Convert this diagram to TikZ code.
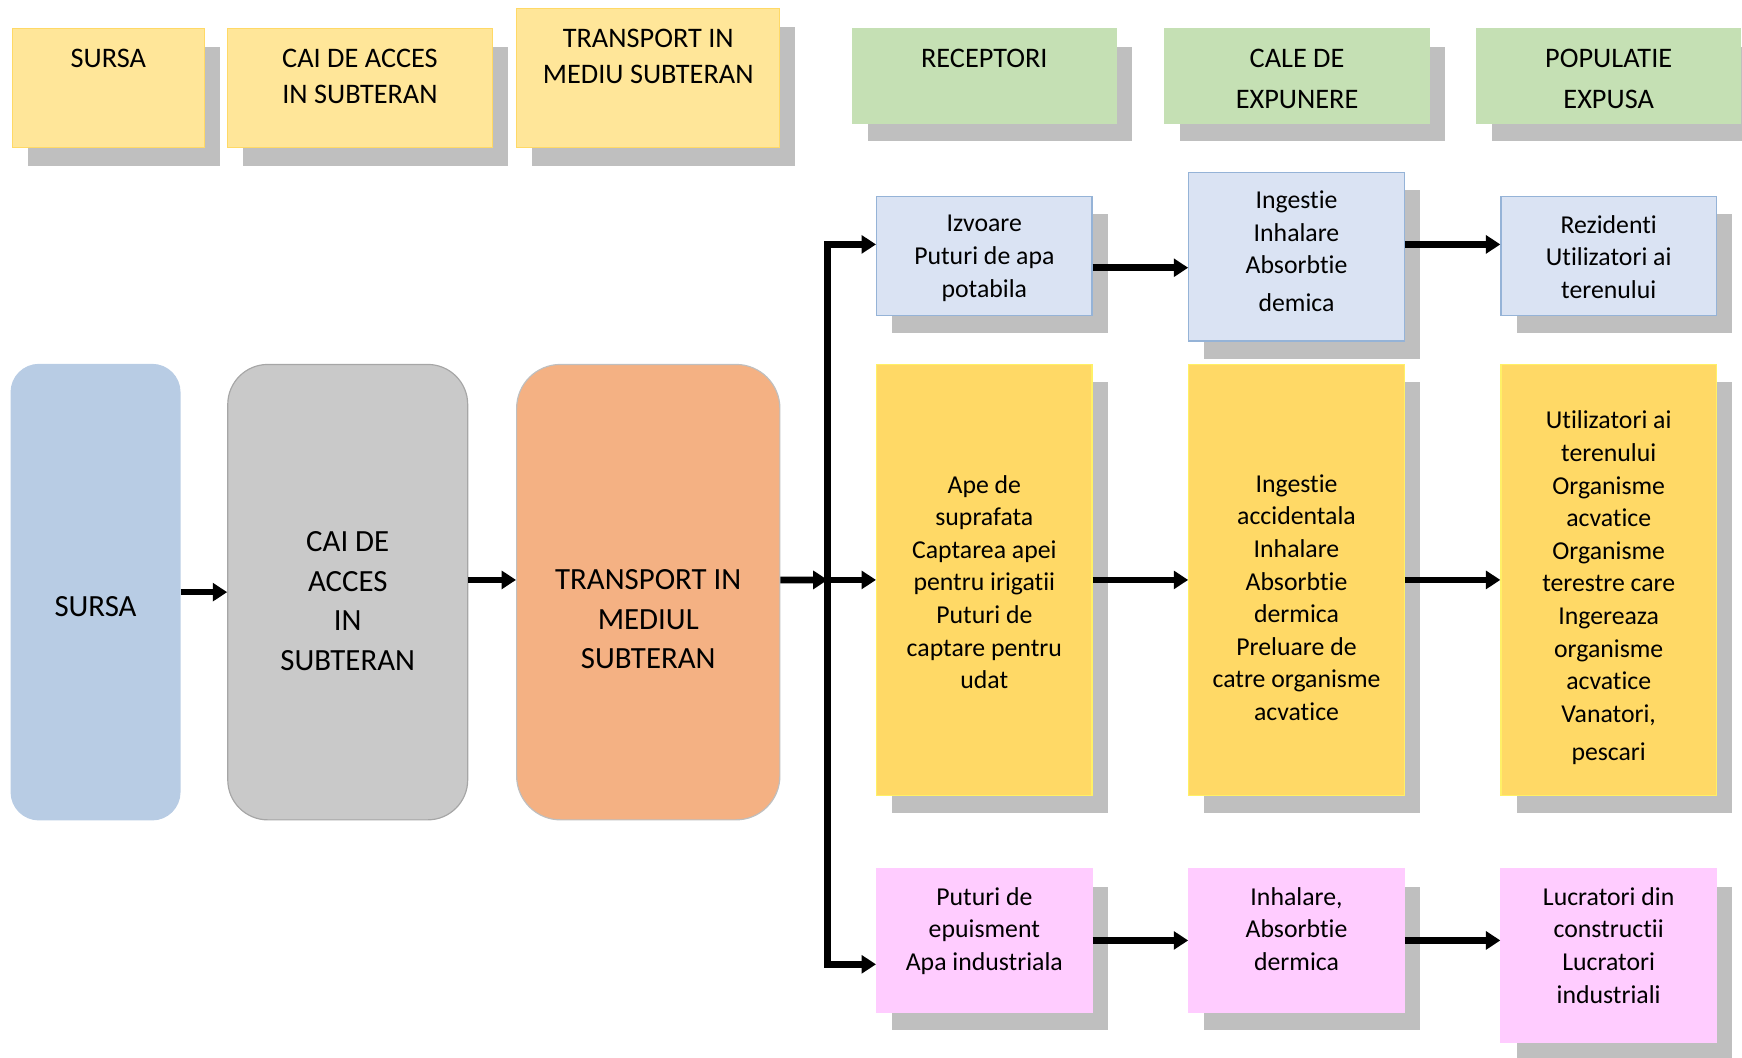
\documentclass[tikz,border=0pt]{standalone}
\usepackage{fontspec}
\setmainfont{Carlito}[Ligatures=NoCommon]
\usetikzlibrary{arrows.meta, positioning, shadows}

\definecolor{hdrYel}{HTML}{FFE699}
\definecolor{hdrYelLine}{HTML}{FFD966}
\definecolor{hdrGrn}{HTML}{C5E0B4}
\definecolor{shadowGray}{HTML}{BFBFBF}
\definecolor{srcBlue}{HTML}{B8CCE4}
\definecolor{pathGray}{HTML}{C9C9C9}
\definecolor{pathLine}{HTML}{A6A6A6}
\definecolor{transOrange}{HTML}{F4B183}
\definecolor{boxBlue}{HTML}{DAE3F3}
\definecolor{boxBlueLine}{HTML}{95B3D7}
\definecolor{boxYel}{HTML}{FFD966}
\definecolor{boxYelLine}{HTML}{FFF066}
\definecolor{boxPink}{HTML}{FFCCFF}

\begin{document}
\begin{tikzpicture}[
  x=0.02cm, y=-0.02cm,
  >={Triangle[length=0.26cm, width=0.32cm]},
  boxshadow/.style={drop shadow={shadow xshift=0.28cm, shadow yshift=-0.32cm,
                    fill=shadowGray, opacity=1}},
  hdr/.style={rectangle, inner sep=0pt, line width=0.6pt, boxshadow},
  hdrY/.style={hdr, fill=hdrYel, draw=hdrYelLine, minimum height=2.14cm},
  hdrG/.style={hdr, fill=hdrGrn, draw=hdrGrn, minimum width=4.76cm, minimum height=1.7cm},
  htxt/.style={inner sep=0pt, align=center, font=\fontsize{14.5}{18.8}\selectfont},
  gtxt/.style={htxt, font=\fontsize{14.5}{21}\selectfont},
  big/.style={rectangle, inner sep=0pt, minimum height=8.2cm, line width=0.6pt},
  btxt/.style={inner sep=0pt, align=center, font=\fontsize{15.8}{20.2}\selectfont},
  cell/.style={rectangle, inner sep=0pt, minimum width=3.88cm, line width=0.6pt, boxshadow},
  blu/.style={cell, fill=boxBlue, draw=boxBlueLine},
  yel/.style={cell, fill=boxYel, draw=boxYelLine, minimum height=7.76cm},
  pnk/.style={cell, fill=boxPink, draw=boxPink},
  ctxt/.style={inner sep=0pt, align=center, font=\fontsize{13.2}{16.7}\selectfont},
  arr/.style={->, line width=0.12cm},
]
\clip (0,0) rectangle (1568,952);

%% header row
\node[hdrY, minimum width=3.46cm] (hSursa) at (97.5,79.5) {};
\node[hdrY, minimum width=4.76cm] (hCai) at (324,79.5) {};
\node[hdrY, minimum width=4.74cm, minimum height=2.5cm] (hTrans) at (583.5,70.5) {};
\node[hdrG] (hRec) at (886,68.5) {};
\node[hdrG, minimum width=4.78cm] (hCale) at (1167.5,68.5) {};
\node[hdrG] (hPop) at (1448,68.5) {};

\node[htxt, below=0.36cm of hSursa.north] (tSursa) {SURSA};
\node[htxt, below=0.36cm of hCai.north] (tCai) {CAI DE ACCES\\IN SUBTERAN};
\node[htxt, below=0.36cm of hTrans.north] (tTrans) {TRANSPORT IN\\MEDIU SUBTERAN};
\node[gtxt, below=0.36cm of hRec.north] (tRec) {RECEPTORI};
\node[gtxt, below=0.36cm of hCale.north] (tCale) {CALE DE\\EXPUNERE};
\node[gtxt, below=0.36cm of hPop.north] (tPop) {POPULATIE\\EXPUSA};

%% source, pathways, transport
\node[big, fill=srcBlue, draw=srcBlue, rounded corners=0.5cm, minimum width=3.04cm] (sursa) at (86,533) {};
\node[big, fill=pathGray, draw=pathLine, rounded corners=0.72cm, minimum width=4.32cm] (cai) at (313,533) {};
\node[big, fill=transOrange, draw=shadowGray, rounded corners=0.79cm, minimum width=4.74cm] (trans) at (583.5,533) {};

\node[btxt] (sursaTxt) at ([yshift=-0.26cm]sursa.center) {SURSA};
\node[btxt] (caiTxt) at ([yshift=-0.16cm]cai.center) {CAI DE\\ACCES\\IN\\SUBTERAN};
\node[btxt] (transTxt) at ([yshift=-0.49cm]trans.center) {TRANSPORT IN\\MEDIUL\\SUBTERAN};

%% receptors / exposure / population
\node[blu, minimum height=2.14cm] (recT) at (886,230.5) {};
\node[yel] (recM) at (886,522) {};
\node[pnk, minimum height=2.58cm] (recB) at (886,846.5) {};
\node[blu, minimum height=3.04cm] (expT) at (1167,231) {};
\node[yel] (expM) at (1167,522) {};
\node[pnk, minimum height=2.58cm] (expB) at (1167,846.5) {};
\node[blu, minimum height=2.14cm] (popT) at (1448,230.5) {};
\node[yel] (popM) at (1448,522) {};
\node[pnk, minimum height=3.12cm] (popB) at (1448,860) {};

\node[ctxt, below=0.34cm of recT.north] (recTTxt) {Izvoare\\Puturi de apa\\potabila};
\node[ctxt, below=0.34cm of expT.north] (expTTxt) {Ingestie\\Inhalare\\Absorbtie\\[2.8pt]demica};
\node[ctxt, below=0.34cm of popT.north] (popTTxt) {Rezidenti\\Utilizatori ai\\terenului};
\node[ctxt] (recMTxt) at ([yshift=-0.04cm]recM.center)
  {Ape de\\suprafata\\Captarea apei\\pentru irigatii\\Puturi de\\captare pentru\\udat};
\node[ctxt] (expMTxt) at ([yshift=-0.32cm]expM.center)
  {Ingestie\\accidentala\\Inhalare\\Absorbtie\\dermica\\Preluare de\\catre organisme\\acvatice};
\node[ctxt] (popMTxt) at ([yshift=-0.14cm]popM.center)
  {Utilizatori ai\\terenului\\Organisme\\acvatice\\Organisme\\terestre care\\Ingereaza\\organisme\\acvatice\\Vanatori,\\[2.8pt]pescari};
\node[ctxt, below=0.34cm of recB.north] (recBTxt) {Puturi de\\epuisment\\Apa industriala};
\node[ctxt, below=0.34cm of expB.north] (expBTxt) {Inhalare,\\Absorbtie\\dermica};
\node[ctxt, below=0.34cm of popB.north] (popBTxt) {Lucratori din\\constructii\\Lucratori\\industriali};

%% connectors
\coordinate (busT) at (745,220);
\coordinate (busM) at (745,522);
\coordinate (busB) at (745,868);

\draw[arr] (sursa) -- (cai);
\draw[arr] ([yshift=0.22cm]cai.east) -- ([yshift=0.22cm]trans.west);
\draw[arr] ([yshift=0.22cm]trans.east) -- (busM);
\draw[arr, <->] (busT -| recT.west) -- (busT) -- (busB) -- (busB -| recB.west);
\draw[arr] (busM) -- (recM);

\draw[arr] ([yshift=-0.21cm]recT.east) -- ([yshift=-0.21cm]recT.east -| expT.west);
\draw[arr] ([yshift=0.21cm]popT.west -| expT.east) -- ([yshift=0.21cm]popT.west);
\draw[arr] (recM) -- (expM);
\draw[arr] (expM) -- (popM);
\draw[arr] (recB) -- (expB);
\draw[arr] (expB.east) -- (expB.east -| popB.west);
\end{tikzpicture}
\end{document}
